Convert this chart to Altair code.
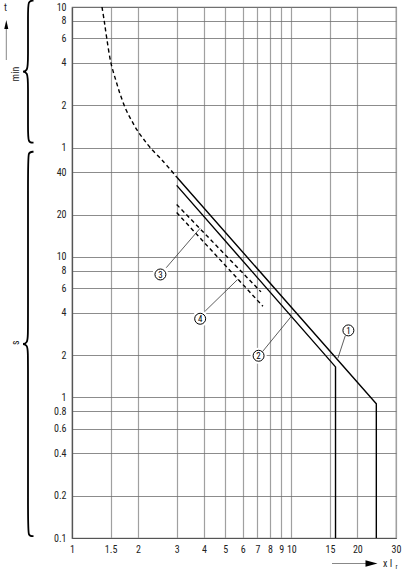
import math
import altair as alt
import pandas as pd

FONT = "Liberation Sans Narrow, Arial Narrow, Roboto Condensed, Roboto, sans-serif"

# ---- characteristic curves (x in multiples of Ir, t in seconds) ----
c1_x = [3.0, 24.4, 24.4]          # curve 1 (solid)
c1_t = [37.0, 0.9, 0.1]
c2_x = [3.0, 15.9, 15.9]          # curve 2 (solid)
c2_t = [32.3, 1.65, 0.1]
c3_x = [3.0, 7.27]                # curve 3 (dashed)
c3_t = [23.6, 5.64]
c4_x = [3.0, 7.42]                # curve 4 (dashed)
c4_t = [20.7, 4.45]
# dashed branch running into curve 1
cold_x = [1.37, 1.402, 1.44, 1.505, 1.585, 1.665, 1.77, 1.873, 1.978, 2.113, 2.27, 2.594, 3.0]
cold_t = [600, 480, 360, 240, 180, 141, 110, 92.9, 80, 69.3, 60, 48.2, 37]

# ---- numbered callouts ----
tag_txt = ["1", "2", "3", "4"]
tag_x = [18.2, 7.09, 2.53, 3.84]
tag_t = [3.0, 1.98, 7.5, 3.63]
lead_x1 = [17.6, 7.39, 2.69, 4.05]
lead_t1 = [2.74, 2.12, 8.38, 4.12]
lead_x2 = [16.3, 10.0, 3.84, 5.69]
lead_t2 = [1.90, 3.78, 16.0, 6.91]

# ---- axis ticks ----
x_ticks = [1, 1.5, 2, 3, 4, 5, 6, 7, 8, 9, 10, 15, 20, 30]
t_ticks = [0.1, 0.2, 0.4, 0.6, 0.8, 1, 2, 4, 6, 8, 10, 20, 40, 60, 120, 240, 360, 480, 600]

xs = alt.Scale(type="log", domain=[1, 30], nice=False)
ys = alt.Scale(type="log", domain=[0.1, 600], nice=False)

x_axis = alt.Axis(values=x_ticks, format="~g", grid=True, gridColor="#a0a0a0",
                  gridWidth=1.2, ticks=False, domainColor="#555", domainWidth=1.2,
                  labelFont=FONT, labelFontSize=10, labelColor="#222", labelPadding=6,
                  labelFlush=False, labelOverlap=False, title=None)
y_axis = alt.Axis(values=t_ticks, grid=True, gridColor="#6e6e6e", gridWidth=0.8,
                  ticks=False, domainColor="#555", domainWidth=1.2,
                  labelExpr="datum.value >= 60 ? format(datum.value / 60, '~g') : format(datum.value, '~g')",
                  labelFont=FONT, labelFontSize=10, labelColor="#222", labelPadding=6,
                  labelFlush=False, labelOverlap=False, title=None)


def X(field):
    return alt.X(field, scale=xs, axis=x_axis)


def Y(field):
    return alt.Y(field, scale=ys, axis=y_axis)


def curve_df(x, t):
    return pd.DataFrame({"x": x, "t": t, "i": range(len(x))})


def curve(x, t, dash=None, interp="linear"):
    kw = dict(color="black", strokeWidth=1.4, interpolate=interp)
    if dash:
        kw["strokeDash"] = dash
    return alt.Chart(curve_df(x, t)).mark_line(**kw).encode(
        x=X("x:Q"), y=Y("t:Q"), order="i:Q",
    )


lines = [
    curve(c1_x, c1_t),
    curve(c2_x, c2_t),
    curve(c3_x, c3_t, dash=[4, 3]),
    curve(c4_x, c4_t, dash=[4, 3]),
    curve(cold_x, cold_t, dash=[4, 3], interp="catmull-rom"),
]

tags = pd.DataFrame({"txt": tag_txt, "x": tag_x, "t": tag_t,
                     "x1": lead_x1, "t1": lead_t1, "x2": lead_x2, "t2": lead_t2})
halo = alt.Chart(tags).mark_point(shape="circle", filled=True, color="white", size=260, opacity=1).encode(
    x=X("x:Q"), y=Y("t:Q"))
leaders = alt.Chart(tags).mark_rule(color="#333", strokeWidth=0.8).encode(
    x=X("x1:Q"), y=Y("t1:Q"), x2="x2:Q", y2="t2:Q",
)
rings = alt.Chart(tags).mark_point(shape="circle", filled=False, color="black", strokeWidth=1, size=120, opacity=1).encode(
    x=X("x:Q"), y=Y("t:Q"))
nums = alt.Chart(tags).mark_text(font=FONT, fontSize=9, color="black", baseline="middle", dy=0.5).encode(
    x=X("x:Q"), y=Y("t:Q"), text="txt:N")


# ---- curly braces grouping the minute and second ranges ----
def brace(lo, hi, spine=-44.0, hook=-38.5, tip=-51.5, step=1.11):
    mid = math.sqrt(lo * hi)
    pts = [(hook, hi), (spine, hi), (spine, hi / step ** 2), (spine, mid * step ** 2), (spine, mid),
           (tip, mid), (spine, mid), (spine, mid / step ** 2), (spine, lo * step ** 2), (spine, lo), (hook, lo)]
    return pd.DataFrame({"px": [p[0] for p in pts], "t": [p[1] for p in pts], "i": range(len(pts))})


def brace_chart(df):
    return alt.Chart(df).mark_line(color="black", strokeWidth=1.8, interpolate="basis").encode(
        x=alt.X("px:Q", scale=None, axis=None),
        y=Y("t:Q"),
        order="i:Q",
    )


braces = [brace_chart(brace(65, 666)), brace_chart(brace(0.103, 56))]

unit_min = alt.Chart(pd.DataFrame({"t": [200.0], "s": ["min"]})).mark_text(
    font=FONT, fontSize=10, angle=270, color="#222").encode(x=alt.value(-56.5), y=Y("t:Q"), text="s:N")
unit_s = alt.Chart(pd.DataFrame({"t": [2.45], "s": ["s"]})).mark_text(
    font=FONT, fontSize=10, angle=270, color="#222").encode(x=alt.value(-56.5), y=Y("t:Q"), text="s:N")

# ---- axis name arrows ----
t_label = alt.Chart(pd.DataFrame({"s": ["t"]})).mark_text(font=FONT, fontSize=10, color="#222").encode(
    x=alt.value(-66.5), y=alt.value(0.5), text="s:N")
t_shaft = alt.Chart(pd.DataFrame({"a": [0]})).mark_rule(color="#888", strokeWidth=1).encode(
    x=alt.value(-65.7), y=alt.value(18), y2=alt.value(53))
t_head = alt.Chart(pd.DataFrame({"a": [0]})).mark_point(
    shape="M0,-1L0.45,1L-0.45,1Z", filled=True, color="black", size=81, opacity=1).encode(
    x=alt.value(-65.7), y=alt.value(17.5))

x_shaft = alt.Chart(pd.DataFrame({"a": [0]})).mark_rule(color="#888", strokeWidth=1).encode(
    x=alt.value(260), x2=alt.value(296), y=alt.value(556.5))
x_head = alt.Chart(pd.DataFrame({"a": [0]})).mark_point(
    shape="M1,0L-1,0.55L-1,-0.55Z", filled=True, color="black", size=144, opacity=1).encode(
    x=alt.value(299.5), y=alt.value(556.5))
x_name = alt.Chart(pd.DataFrame({"s": ["x I"]})).mark_text(
    font=FONT, fontSize=10, color="#222", align="left", baseline="middle").encode(
    x=alt.value(311), y=alt.value(556.5), text="s:N")
x_sub = alt.Chart(pd.DataFrame({"s": ["r"]})).mark_text(
    font=FONT, fontSize=7, color="#222", align="left", baseline="middle").encode(
    x=alt.value(323.5), y=alt.value(560), text="s:N")

chart = alt.layer(
    *lines, halo, leaders, rings, nums, *braces, unit_min, unit_s,
    t_label, t_shaft, t_head, x_shaft, x_head, x_name, x_sub,
).properties(
    width=324, height=531,
    padding={"left": 72, "top": 7, "right": 14, "bottom": 42},
    autosize=alt.AutoSizeParams(type="none"),
    background="white",
).configure_view(stroke="#777", strokeWidth=1.2)

chart.save("out.html", embed_options={"renderer": "svg", "actions": False})
